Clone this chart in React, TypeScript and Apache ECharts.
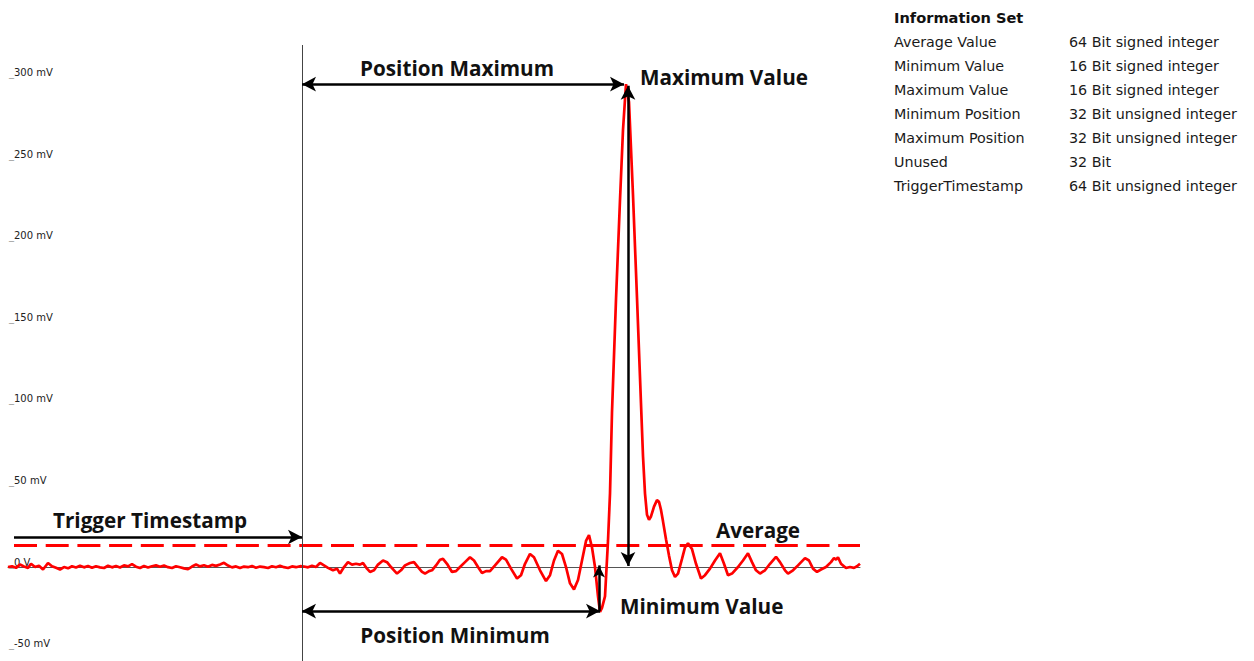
import React, { useEffect, useRef } from "react";
import * as echarts from "echarts";

// sample index relative to trigger (0 = trigger)
const sampleIdx = [
  -294, -290, -286, -282, -278, -274, -271, -267, -263, -259, -254, -250, -246, -242, -238, -234, -230, -226, -222, -218,
  -214, -210, -206, -202, -198, -194, -190, -186, -182, -178, -174, -170, -166, -162, -158, -154, -150, -146, -142, -138,
  -134, -130, -126, -122, -118, -114, -110, -106, -102, -98, -94, -90, -86, -82, -78, -74, -70, -66, -62, -58,
  -54, -50, -46, -42, -38, -34, -30, -26, -22, -18, -14, -10, -6, -2,
  2, 6, 10, 14, 18, 22, 26, 31, 35, 38, 42, 46, 50, 54, 58, 61, 65, 68, 72, 76,
  81, 85, 89, 92, 95, 99, 103, 108, 112, 116, 120, 123, 127, 130, 134, 138, 141, 145, 150, 154,
  158, 163, 168, 172, 176, 180, 184, 188, 193, 200, 204, 209, 215, 219, 223, 228, 232, 238, 244, 248,
  252, 256, 260, 264, 268, 272, 276, 280, 284, 287, 290, 293, 296, 298, 300, 303, 306, 308, 310, 314,
  318, 321, 324, 327, 331, 335, 339, 341, 343, 345, 347, 349, 352, 355, 357, 359, 361, 364, 367, 370,
  373, 376, 380, 383, 386, 390, 394, 399, 403, 408, 413, 418, 422, 426, 430, 436, 441, 446, 450, 454,
  458, 463, 468, 474, 478, 483, 486, 491, 496, 503, 507, 511, 515, 519, 524, 529, 532, 534, 536, 539,
  544, 548, 552, 555, 558,
];

// signal in mV
const signalMv = [
  0, 0.5, -0.5, 1.5, 0.3, -0.5, 2, 0, 0.8, -1.5, 2.5, 0.5, -0.5, -1.5, 0, -0.8, 0.5, -0.3, 0.8, -0.2,
  0.6, -0.5, 0.5, -0.2, -0.6, 0.8, -0.2, 0.6, -0.3, 1, 0.4, 1.8, 0.2, -0.6, 0.6, -0.3, 0.5, 1, 0.2, 0.9,
  -0.1, -0.6, 0.5, -0.1, -0.8, -1.3, 0.3, 1.5, 0.4, 1.1, 0.2, 1.3, 0.7, 1.6, 2.6, 0.9, -0.2, 0.4, -0.6, 0.3,
  -0.1, 0.6, -0.4, 0.3, -0.1, -0.6, 0.5, -0.1, 0.8, -0.1, -0.6, 0.4, -0.1, 0.5,
  0.3, -0.2, 0.8, 0, 2.5, 1, -0.5, -2, -1, -4, 0, 3, 1.5, 2, 1.5, 2.5, -1, -3, -2, 1.5,
  4, 3, 0, -2, -4, -2, 1, 2.5, 3, 0, -3, -4, -2.5, -2, 1, 4.5, 5, 2, -3, -2.5,
  0, 3, 6, 4, 0, -3.7, -2.5, -2.5, 1, 6, 4.5, -1, -7, -5, 2, 8, 6, -2, -8.6, -5,
  4, 10, 8, 0, -10, -13.7, -8, 4, 16, 19.6, 12, 0, -18, -27.5, -25, -18, 16, 45, 95, 164,
  225, 268, 296, 285, 228, 165, 100, 68, 45, 32, 29, 31, 37, 41, 40, 35, 28, 17, 7, -2,
  -6, -4, 5, 12, 14.5, 11, 2, -7, -5, -1, 4, 8.4, 2, -5, -4, 0, 4, 8.4, 3, -2,
  -4, -2, 2, 6.3, 3, -2, -4, -2, 1, 5.5, 4, -1, -3, -1.5, 0, 3, 5.5, 4.5, 6, 2,
  -0.6, 0, -0.5, 0.5, 2,
];

const averageMv = 13.5;
const maxMv = 296;
const minMv = -27;
const maxPos = 324;
const minPos = 298;

const yTickValues = [-50, 0, 50, 100, 150, 200, 250, 300];

const infoTitle = "Information Set";
const infoNames = [
  "Average Value",
  "Minimum Value",
  "Maximum Value",
  "Minimum Position",
  "Maximum Position",
  "Unused",
  "TriggerTimestamp",
];
const infoTypes = [
  "64 Bit signed integer",
  "16 Bit signed integer",
  "16 Bit signed integer",
  "32 Bit unsigned integer",
  "32 Bit unsigned integer",
  "32 Bit",
  "64 Bit unsigned integer",
];

export default function App() {
  const ref = useRef<HTMLDivElement>(null);
  useEffect(() => {
    if (!ref.current) return;
    const chart = echarts.init(ref.current, null, { renderer: "svg" });
    const signal = sampleIdx.map((s, i) => [s, signalMv[i]]);
    const boldFont = 'bold 20.7px "Open Sans"';
    const infoFont = '14.3px "DejaVu Sans"';
    const arrowStyle = { color: "#000", width: 2.5, type: "solid" as const };

    const graphic: any[] = [
      { type: "text", x: 457, y: 68, style: { text: "Position Maximum", font: boldFont, fill: "#111", align: "center", verticalAlign: "middle" } },
      { type: "text", x: 640, y: 77, style: { text: "Maximum Value", font: boldFont, fill: "#111", align: "left", verticalAlign: "middle" } },
      { type: "text", x: 53, y: 520, style: { text: "Trigger Timestamp", font: boldFont, fill: "#111", align: "left", verticalAlign: "middle" } },
      { type: "text", x: 716, y: 530, style: { text: "Average", font: boldFont, fill: "#111", align: "left", verticalAlign: "middle" } },
      { type: "text", x: 620, y: 606, style: { text: "Minimum Value", font: boldFont, fill: "#111", align: "left", verticalAlign: "middle" } },
      { type: "text", x: 455, y: 635, style: { text: "Position Minimum", font: boldFont, fill: "#111", align: "center", verticalAlign: "middle" } },
      { type: "text", x: 894, y: 17, style: { text: infoTitle, font: 'bold 14.6px "DejaVu Sans"', fill: "#111", align: "left", verticalAlign: "middle" } },
    ];
    infoNames.forEach((n, i) => {
      graphic.push({ type: "text", x: 894, y: 42 + i * 24, style: { text: n, font: infoFont, fill: "#1a1a1a", align: "left", verticalAlign: "middle" } });
      graphic.push({ type: "text", x: 1069, y: 42 + i * 24, style: { text: infoTypes[i], font: infoFont, fill: "#1a1a1a", align: "left", verticalAlign: "middle" } });
    });

    chart.setOption({
      animation: false,
      grid: { left: 8, right: 394, top: 45, bottom: 0, containLabel: false },
      xAxis: {
        type: "value",
        min: -294,
        max: 558,
        axisLine: { show: true, onZero: true, lineStyle: { color: "#555", width: 1 } },
        axisTick: { show: false },
        axisLabel: { show: false },
        splitLine: { show: false },
      },
      yAxis: {
        type: "value",
        min: -57.6,
        max: 320,
        axisLine: { show: false },
        axisTick: { show: false },
        splitLine: { show: false },
        axisLabel: {
          show: true,
          inside: true,
          margin: 1,
          customValues: yTickValues,
          verticalAlign: "bottom",
          formatter: (v: number) => (v === 0 ? "{u|_}{t|0 V}" : `{u|_}{t|${v} mV}`),
          rich: {
            u: { color: "#999", fontSize: 10, fontFamily: "DejaVu Sans" },
            t: { color: "#222", fontSize: 10, fontFamily: "DejaVu Sans" },
          },
        },
      },
      series: [
        {
          type: "line",
          data: signal,
          showSymbol: false,
          lineStyle: { color: "#ff0000", width: 2.7 },
          z: 3,
          markLine: {
            silent: true,
            symbol: ["none", "none"],
            label: { show: false },
            data: [
              [
                { coord: [-288, averageMv], lineStyle: { color: "#ff0000", width: 3, type: [23, 8.7] } },
                { coord: [558, averageMv] },
              ],
            ],
          },
        },
        {
          type: "line",
          data: [],
          z: 4,
          markLine: {
            silent: true,
            label: { show: false },
            symbol: ["none", "none"],
            data: [
              [
                { xAxis: 0, yAxis: 320, lineStyle: { color: "#444", width: 1, type: "solid" } },
                { xAxis: 0, yAxis: -57.6 },
              ],
              [
                { coord: [0, maxMv], symbol: "arrow", symbolSize: [11, 14], lineStyle: arrowStyle },
                { coord: [maxPos - 2, maxMv], symbol: "arrow", symbolSize: [11, 14] },
              ],
              [
                { coord: [maxPos + 2, maxMv - 1], symbol: "arrow", symbolSize: [11, 14], lineStyle: arrowStyle },
                { coord: [maxPos + 2, 0.6], symbol: "arrow", symbolSize: [11, 14] },
              ],
              [
                { coord: [-288, 18.4], symbol: "none", lineStyle: arrowStyle },
                { coord: [0, 18.4], symbol: "arrow", symbolSize: [11, 14] },
              ],
              [
                { coord: [0, minMv], symbol: "arrow", symbolSize: [11, 14], lineStyle: arrowStyle },
                { coord: [minPos, minMv], symbol: "arrow", symbolSize: [11, 14] },
              ],
              [
                { coord: [minPos - 1, minMv], symbol: "none", lineStyle: arrowStyle },
                { coord: [minPos - 1, 1], symbol: "arrow", symbolSize: [9, 12] },
              ],
            ],
          },
        },
      ],
      graphic,
    });
    return () => chart.dispose();
  }, []);
  return <div ref={ref} style={{ position: "absolute", left: 0, top: 0, width: 1254, height: 661 }} />;
}
